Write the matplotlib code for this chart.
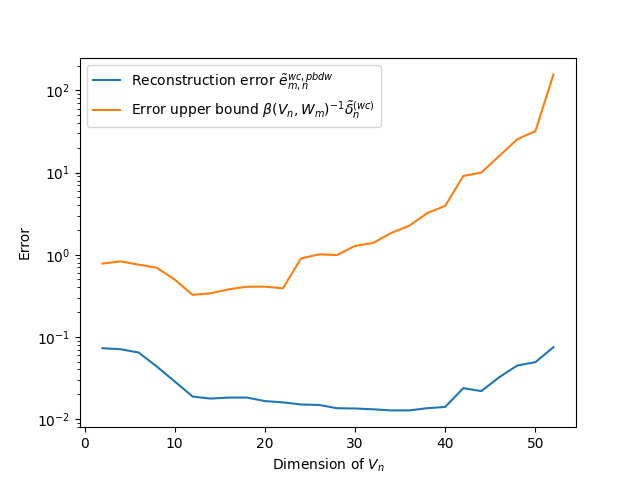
import numpy as np
import matplotlib
matplotlib.use('Agg')
import matplotlib.pyplot as plt

dims = np.arange(2, 54, 2)

recon_err = [0.0726, 0.0706, 0.0644, 0.0436, 0.0286, 0.0187, 0.0177, 0.0182,
             0.0182, 0.0165, 0.0159, 0.0150, 0.0148, 0.0135, 0.0134, 0.0131,
             0.0127, 0.0127, 0.0135, 0.0140, 0.0237, 0.0218, 0.0323, 0.0448,
             0.0491, 0.0748]

upper_bound = [0.78, 0.83, 0.756, 0.695, 0.497, 0.324, 0.339, 0.379,
               0.408, 0.408, 0.39, 0.90, 1.01, 0.99, 1.28, 1.39,
               1.84, 2.25, 3.21, 3.94, 9.1, 10.0, 16.0, 25.5,
               32.0, 157.0]

fig, ax = plt.subplots(figsize=(6.4, 4.8), dpi=100)
ax.plot(dims, recon_err, label=r'Reconstruction error $\tilde{e}^{wc,pbdw}_{m,n}$')
ax.plot(dims, upper_bound,
        label=r'Error upper bound $\beta(V_n,W_m)^{-1}\tilde{\delta}^{(wc)}_n$')
ax.set_yscale('log')
ax.set_xlabel(r'Dimension of $V_n$')
ax.set_ylabel('Error')
ax.legend(loc='upper left')

plt.savefig('out.png')
